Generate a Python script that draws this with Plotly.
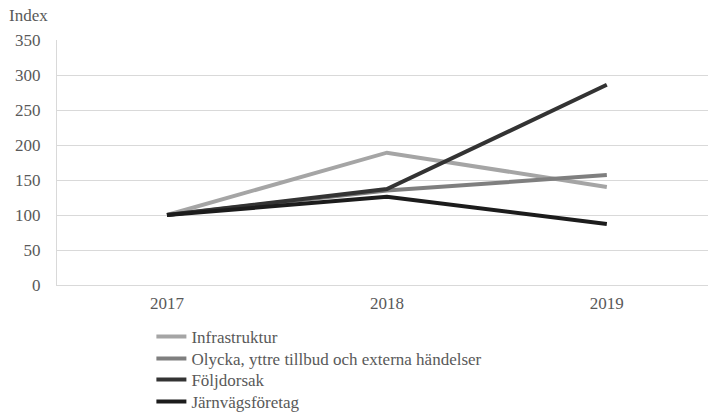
import plotly.graph_objects as go

years = ["2017", "2018", "2019"]
infrastruktur = [100, 189, 140]
olycka = [100, 135, 157]
foljdorsak = [100, 137, 286]
jarnvag = [100, 126, 87]

series = [
    ("Infrastruktur", infrastruktur, "#a5a5a5"),
    ("Olycka, yttre tillbud och externa händelser", olycka, "#7f7f7f"),
    ("Följdorsak", foljdorsak, "#333333"),
    ("Järnvägsföretag", jarnvag, "#1c1c1c"),
]

FONT = "Liberation Serif"
FS = 17
row_centers = [337, 359, 380, 402]

fig = go.Figure()
legend_layouts = {}
for i, (name, vals, col) in enumerate(series):
    lname = "legend" if i == 0 else f"legend{i + 1}"
    fig.add_trace(go.Scatter(x=years, y=vals, name=name, mode="lines",
                             line=dict(color=col, width=4), legend=lname))
    legend_layouts[lname] = dict(
        x=0.145, y=1 - row_centers[i] / 414, xanchor="left", yanchor="middle",
        yref="container",
        font=dict(family=FONT, size=FS, color="#595959"),
        itemwidth=30, bgcolor="rgba(0,0,0,0)")

fig.update_layout(
    width=708, height=414,
    margin=dict(l=57, r=0, t=40, b=129, autoexpand=False),
    plot_bgcolor="white", paper_bgcolor="white",
    font=dict(family=FONT, size=FS, color="#595959"),
    showlegend=True,
    xaxis=dict(type="category", range=[-0.5, 2.46], showgrid=False,
               showline=True, linecolor="#d9d9d9", linewidth=1,
               ticks="", zeroline=False, ticklabelstandoff=3),
    yaxis=dict(range=[0, 350], dtick=50, showgrid=True, gridcolor="#d9d9d9",
               gridwidth=1, showline=True, linecolor="#d9d9d9", linewidth=1,
               zeroline=False, ticks="", ticklabelstandoff=12),
    annotations=[dict(text="Index", xref="paper", yref="paper",
                      x=-0.077, y=1.102,
                      xanchor="left", yanchor="middle", showarrow=False,
                      font=dict(family=FONT, size=FS, color="#595959"))],
    **legend_layouts,
)

fig.write_html("out.html")
